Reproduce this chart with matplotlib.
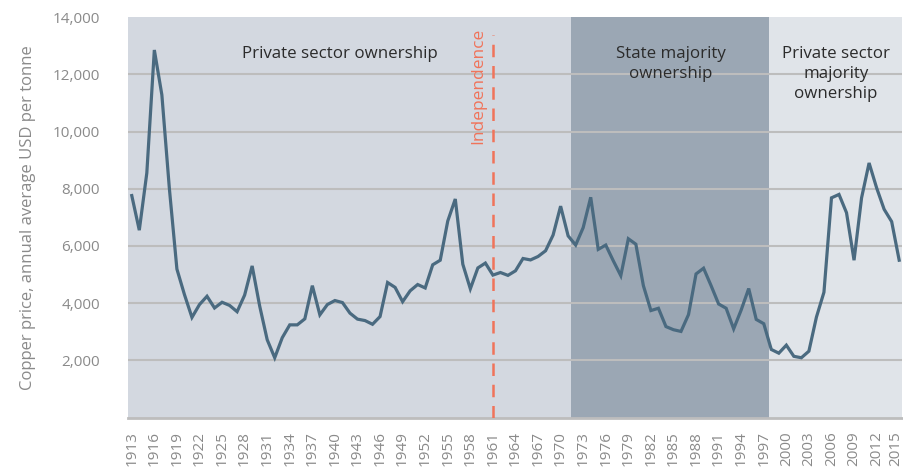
import matplotlib
matplotlib.use("Agg")
import matplotlib.pyplot as plt
import matplotlib.transforms as mtransforms
import numpy as np

years = list(range(1913, 2016))
price = [
    7760, 6550, 8550, 12850, 11280, 8000, 5190, 4300, 3500, 3950,
    4240, 3830, 4030, 3920, 3700, 4280, 5300, 3900, 2720, 2090,
    2790, 3240, 3240, 3450, 4610, 3590, 3950, 4090, 4020, 3650,
    3440, 3390, 3260, 3530, 4720, 4550, 4050, 4430, 4650, 4530,
    5340, 5500, 6870, 7640, 5360, 4500, 5230, 5400, 4980, 5070,
    4970, 5130, 5560, 5510, 5630, 5830, 6380, 7390, 6350, 6030,
    6640, 7700, 5880, 6030, 5480, 4960, 6250, 6060, 4610, 3740,
    3820, 3180, 3070, 3010, 3600, 5020, 5220, 4610, 3970, 3820,
    3100, 3760, 4510, 3430, 3280, 2380, 2250, 2530, 2140, 2090,
    2320, 3510, 4380, 7680, 7800, 7160, 5500, 7680, 8900, 8030,
    7280, 6850, 5500,
]
tick_years = list(range(1913, 2016, 3))
y_ticks = [2000, 4000, 6000, 8000, 10000, 12000, 14000]

periods = [
    (1912.5, 1971.4, "#d3d8e0", "Private sector ownership", 1940.6),
    (1971.4, 1997.7, "#9ba7b4", "State majority\nownership", 1984.6),
    (1997.7, 2015.4, "#e0e4e9", "Private sector\nmajority\nownership", 2006.6),
]
independence_year = 1961

plt.rcParams['font.family'] = ['Open Sans', 'DejaVu Sans']

fig = plt.figure(figsize=(9.04, 4.75), dpi=100)
ax = fig.add_axes([0.1416, 0.121, 0.998 - 0.1416, 0.964 - 0.121])

for x0, x1, col, label, lx in periods:
    ax.axvspan(x0, x1, color=col, zorder=0, lw=0)
    ax.text(lx, 13000, label, ha='center', va='top',
            fontsize=12.2, color='#2b2b2b', linespacing=1.35, zorder=3)

for yv in y_ticks[:-1]:
    ax.axhline(yv, color='#bdbdbd', lw=1.5, zorder=1)

ax.plot(years, price, color='#4a6a80', lw=2.3, zorder=4, solid_joinstyle='miter')

ax.axvline(independence_year, ymin=0, ymax=0.955, color='#f0735a', lw=1.8,
           dashes=(5, 3.5), zorder=3)
ax.text(independence_year - 2.0, 13620, "Independence", rotation=90,
        ha='center', va='top', fontsize=12.5, color='#f0735a', zorder=3)

ax.set_xlim(1912.5, 2015.4)
ax.set_ylim(0, 14000)
ax.set_xticks(tick_years)
ax.set_xticklabels([str(y) for y in tick_years], rotation=90)
ax.set_yticks(y_ticks)
ax.set_yticklabels([f"{v:,}" for v in y_ticks])
ax.tick_params(axis='both', length=0, labelsize=11, colors='#8a8a8a')
ax.tick_params(axis='x', pad=10)
ax.tick_params(axis='y', pad=20)

last = ax.get_xticklabels()[-1]
last.set_transform(last.get_transform() +
                   mtransforms.ScaledTranslation(-3 / 100, 0, fig.dpi_scale_trans))

for s in ['top', 'right', 'left']:
    ax.spines[s].set_visible(False)
ax.spines['bottom'].set_color('#bdbdbd')
ax.spines['bottom'].set_linewidth(2)

ax.set_ylabel("Copper price, annual average USD per tonne", fontsize=12,
              color='#8a8a8a', labelpad=12)

fig.savefig("out.png", dpi=100, facecolor='white')
